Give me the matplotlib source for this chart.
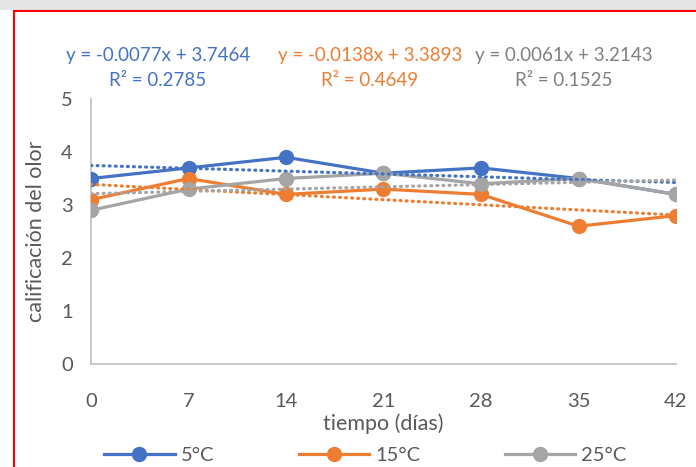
import numpy as np
import matplotlib.pyplot as plt
from matplotlib.patches import Rectangle

dias = [0, 7, 14, 21, 28, 35, 42]
olor_5 = [3.5, 3.7, 3.9, 3.6, 3.7, 3.5, 3.2]
olor_15 = [3.1, 3.5, 3.2, 3.3, 3.2, 2.6, 2.8]
olor_25 = [2.9, 3.3, 3.5, 3.6, 3.4, 3.5, 3.2]
etiquetas = ['5°C', '15°C', '25°C']
colores = ['#4472C4', '#ED7D31', '#A5A5A5']
colores_texto = ['#4472C4', '#ED7D31', '#808080']

plt.rcParams['font.family'] = ['Lato', 'DejaVu Sans']

fig = plt.figure(figsize=(6.96, 4.67), dpi=100)
ax = fig.add_axes([91 / 696, 1 - 364 / 467, 585 / 696, 265 / 467])
ax.patch.set_alpha(0)

# marco rojo y sombra superior
fig.patches.append(Rectangle((0, 1 - 10 / 467), 1, 10 / 467, transform=fig.transFigure,
                             facecolor='#e6e6e6', edgecolor='none', zorder=-3))
fig.patches.append(Rectangle((14 / 696, -0.1), 1.2, 1 - 11 / 467 + 0.1, transform=fig.transFigure,
                             facecolor='white', edgecolor='red', linewidth=1.5, zorder=-2))

x = np.array(dias)
series = [olor_5, olor_15, olor_25]
texto_x = [158, 370, 564]
for serie, lab, col in zip(series, etiquetas, colores):
    ax.plot(dias, serie, color=col, linewidth=2.3, marker='o', markersize=10,
            label=lab, zorder=3)

for serie, col, tcol, tx in zip(series, colores, colores_texto, texto_x):
    m, b = np.polyfit(x, serie, 1)
    pred = m * x + b
    r2 = 1 - np.sum((np.array(serie) - pred) ** 2) / np.sum((np.array(serie) - np.mean(serie)) ** 2)
    ax.plot(x, pred, color=col, linewidth=2.3, linestyle=(0, (0.3, 1.6)),
            dash_capstyle='round', zorder=4)
    signo = '-' if m < 0 else ''
    fig.text(tx / 696, 1 - 56 / 467, f'y = {signo}{abs(m):.4f}x + {b:.4f}', color=tcol,
             fontsize=13.5, ha='center', va='center')
    fig.text(tx / 696, 1 - 80 / 467, f'R² = {r2:.4f}', color=tcol,
             fontsize=13.5, ha='center', va='center')

ax.set_xlim(0, 42)
ax.set_ylim(0, 5)
ax.set_xticks(dias)
ax.set_yticks(range(6))
ax.tick_params(length=0, labelsize=14.5, labelcolor='#595959')
ax.tick_params(axis='x', pad=21)
ax.tick_params(axis='y', pad=13)
for s in ['top', 'right']:
    ax.spines[s].set_visible(False)
for s in ['left', 'bottom']:
    ax.spines[s].set_color('#bfbfbf')
    ax.spines[s].set_linewidth(1.2)
ax.set_xlabel('tiempo (días)', fontsize=15.5, color='#595959', labelpad=2)
ax.set_ylabel('calificación del olor', fontsize=15.5, color='#595959', labelpad=11)

fig.legend(loc='center', bbox_to_anchor=(0.525, 1 - 455 / 467), ncol=3, frameon=False,
           fontsize=14.5, handlelength=3.5, handletextpad=0.3, columnspacing=4.2,
           labelcolor='#595959')

fig.savefig('out.png', dpi=100)
